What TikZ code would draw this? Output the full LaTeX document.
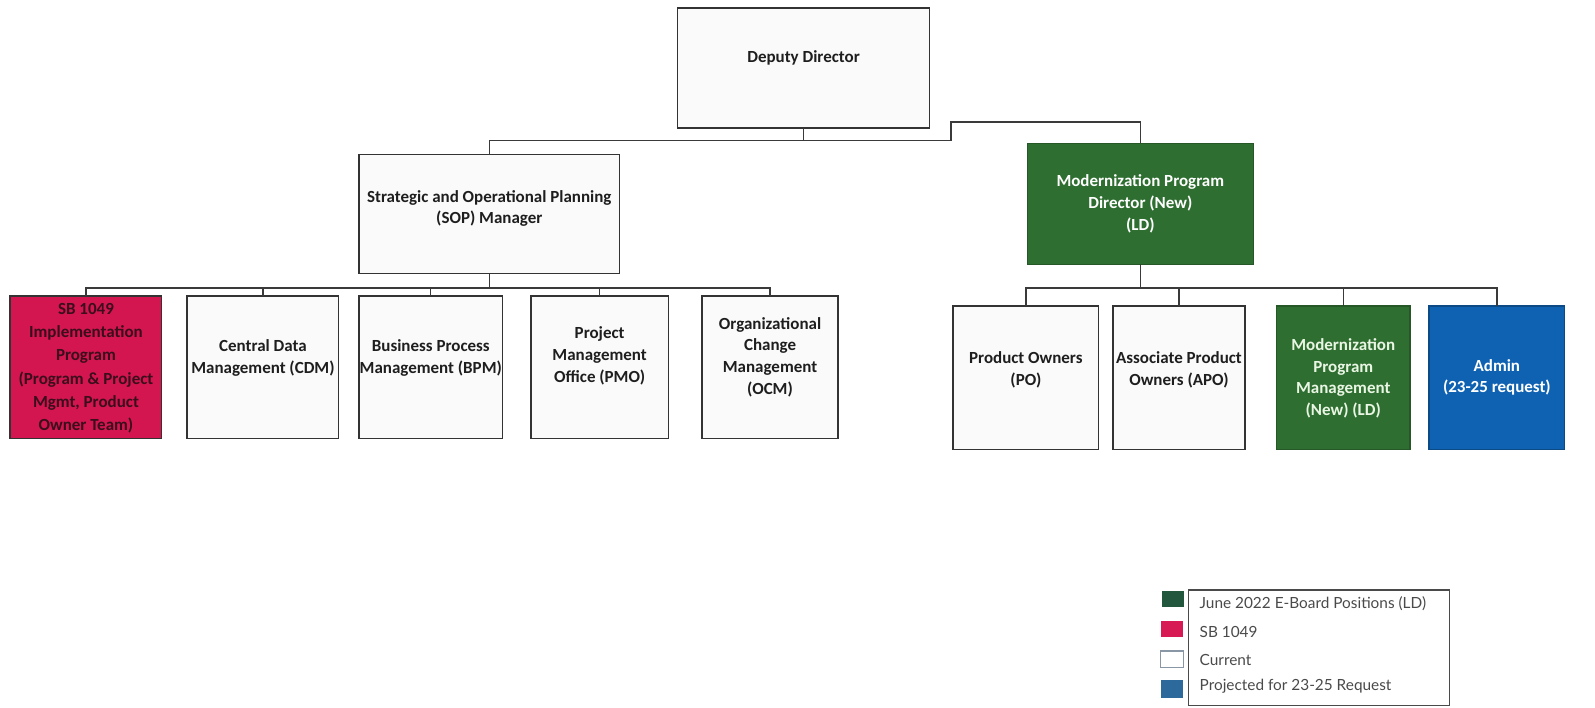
\documentclass[tikz,border=0pt]{standalone}
\usepackage{fontspec}
\setmainfont{Carlito}
\newfontfamily\legendfont{Lato}
\usetikzlibrary{calc}

\definecolor{edgeclr}{HTML}{333333}
\definecolor{wireclr}{HTML}{3A3A3A}
\definecolor{txtclr}{HTML}{1E1E1E}
\definecolor{paleclr}{HTML}{FAFAFA}
\definecolor{sbred}{HTML}{D3164F}
\definecolor{sbtext}{HTML}{3A0E1C}
\definecolor{ldgreen}{HTML}{2E6E30}
\definecolor{ldtext}{HTML}{EAF6E4}
\definecolor{reqblue}{HTML}{0F62B2}
\definecolor{keygreen}{HTML}{22573E}
\definecolor{keyred}{HTML}{D81A54}
\definecolor{keyblue}{HTML}{2D6A9B}
\definecolor{keyedge}{HTML}{8896A6}
\definecolor{keytext}{HTML}{4A4A4A}

\begin{document}
\begin{tikzpicture}[x=0.02cm,y=-0.02cm,
  sz/.style 2 args={minimum width=#1*0.02cm, minimum height=#2*0.02cm},
  box/.style={draw=edgeclr, line width=0.8pt, fill=paleclr, inner sep=0pt, outer sep=0pt},
  sbbox/.style={box, fill=sbred},
  ldbox/.style={box, draw=ldgreen!80!black, fill=ldgreen},
  reqbox/.style={box, draw=reqblue!75!black, fill=reqblue},
  lbl/.style={align=center, font=\fontsize{9.5}{12.2}\selectfont\bfseries, text=txtclr, inner sep=0pt},
  wire/.style={draw=wireclr, line width=0.75pt},
  swatch/.style={draw=none, inner sep=0pt, sz={22}{16}},
  keylbl/.style={anchor=west, inner sep=0pt, font=\legendfont\fontsize{8.6}{10}\selectfont, text=keytext}
]
\useasboundingbox (0,0) rectangle (1568,696);

% ---- boxes ----
\node[box, sz={248}{118}] (dd) at (790,67) {};
\node[box, sz={256}{117}] (sop) at (481,210.5) {};
\node[ldbox, sz={222}{119}] (mpd) at (1121,200.5) {};

\node[sbbox, sz={149}{140}] (sb) at (84.5,361) {};
\node[box, sz={149}{140}] (cdm) at (258.5,361) {};
\node[box, sz={141}{140}] (bpm) at (423.5,361) {};
\node[box, sz={135}{140}] (pmo) at (589.5,361) {};
\node[box, sz={134}{140}] (ocm) at (757,361) {};

\node[box, sz={143}{141}] (po) at (1008.5,371.5) {};
\node[box, sz={130}{141}] (apo) at (1159,371.5) {};
\node[ldbox, sz={131}{141}] (mpm) at (1320.5,371.5) {};
\node[reqbox, sz={133}{141}] (adm) at (1471.5,371.5) {};

% ---- box texts ----
\node[lbl] (ddT) at (790,57) {Deputy Director};
\node[lbl] (sopT) at (481,205) {Strategic and Operational Planning\\(SOP) Manager};
\node[lbl, text=white] (mpdT) at (1121,200.5) {Modernization Program\\Director (New)\\(LD)};

\node[lbl, text=sbtext, font=\fontsize{9.5}{13}\selectfont\bfseries] (sbT) at (84.5,362) {SB 1049\\Implementation\\Program\\(Program \& Project\\Mgmt, Product\\Owner Team)};
\node[lbl] (cdmT) at (258.5,352) {Central Data\\Management (CDM)};
\node[lbl] (bpmT) at (423.5,352) {Business Process\\Management (BPM)};
\node[lbl] (pmoT) at (589.5,350) {Project\\Management\\Office (PMO)};
\node[lbl] (ocmT) at (757,351) {Organizational\\Change\\Management\\(OCM)};

\node[lbl] (poT) at (1008.5,363.5) {Product Owners\\(PO)};
\node[lbl] (apoT) at (1159,363.5) {Associate Product\\Owners (APO)};
\node[lbl, text=ldtext] (mpmT) at (1320.5,372) {Modernization\\Program\\Management\\(New) (LD)};
\node[lbl, text=white] (admT) at (1471.5,371) {Admin\\(23-25 request)};

% ---- connectors ----
\coordinate (topbus) at (0,138);
\coordinate (jog) at (935,120);
\coordinate (leftbus) at (0,283);
\coordinate (rightbus) at (0,283);

\draw[wire] (dd.south) -- (dd.south |- topbus) -| (sop.north);
\draw[wire] (dd.south |- topbus) -| (jog) -| (mpd.north);

\draw[wire] (sop.south) -- (sop.south |- leftbus);
\foreach \c in {sb,cdm,bpm,pmo,ocm}
  \draw[wire] (sop.south |- leftbus) -| (\c.north);

\draw[wire] (mpd.south) -- (mpd.south |- rightbus);
\foreach \c in {po,apo,mpm,adm}
  \draw[wire] (mpd.south |- rightbus) -| (\c.north);

% ---- legend ----
\draw[draw=keytext, line width=0.6pt] (1168,580) rectangle (1425,694);

\node[swatch, fill=keygreen] (kg) at (1153,589) {};
\node[swatch, fill=keyred] (kr) at (1152,618.5) {};
\node[swatch, fill=white, draw=keyedge, line width=0.6pt] (kw) at (1152,648) {};
\node[swatch, fill=keyblue, sz={22}{18}] (kb) at (1152,677.5) {};

\node[keylbl] (kgT) at (1179,593) {June 2022 E-Board Positions (LD)};
\node[keylbl] (krT) at (1179,621) {SB 1049};
\node[keylbl] (kwT) at (1179,649) {Current};
\node[keylbl] (kbT) at (1179,675) {Projected for 23-25 Request};
\end{tikzpicture}
\end{document}
